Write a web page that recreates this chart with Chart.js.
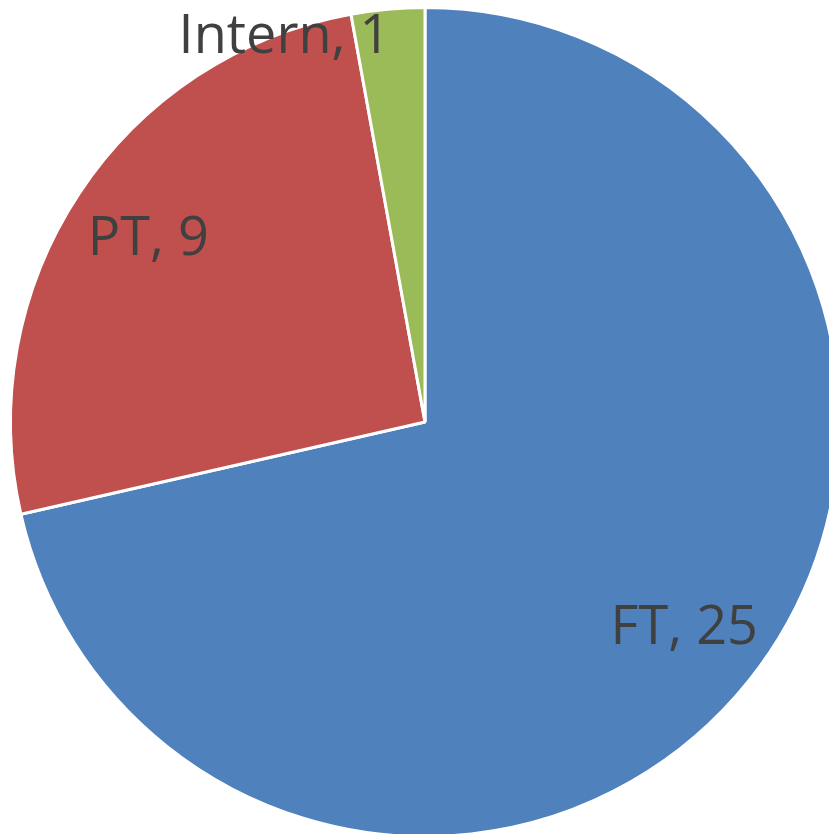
<!DOCTYPE html>
<html>
<head>
<meta charset="utf-8">
<script src="https://cdn.jsdelivr.net/npm/chart.js@4/dist/chart.umd.min.js"></script>
<style>
  html, body { margin: 0; padding: 0; overflow: hidden; background: #fff; }
  #wrap { width: 850px; height: 844px; }
</style>
</head>
<body>
<div id="wrap"><canvas id="pieChart" width="850" height="844"></canvas></div>
<script>
const labels = ['FT', 'PT', 'Intern'];
const counts = [25, 9, 1];
const colors = ['#4F81BD', '#C0504D', '#9BBB59'];

// draws "Name, value" inside each slice like the Excel data labels
const sliceLabels = {
    id: 'sliceLabels',
    afterDatasetsDraw(chart) {
        const ctx = chart.ctx;
        const meta = chart.getDatasetMeta(0);
        ctx.save();
        ctx.font = '54px "Open Sans", sans-serif';
        ctx.fillStyle = '#404040';
        ctx.textBaseline = 'middle';
        meta.data.forEach((arc, i) => {
            const { x, y, startAngle, endAngle, outerRadius } = arc.getProps(['x', 'y', 'startAngle', 'endAngle', 'outerRadius'], true);
            const mid = (startAngle + endAngle) / 2;
            const small = (endAngle - startAngle) < 0.3;
            const r = outerRadius * (small ? 0.93 : 0.8);
            ctx.textAlign = small ? 'right' : 'center';
            ctx.fillText(labels[i] + ', ' + counts[i], x + Math.cos(mid) * r, y + Math.sin(mid) * r);
        });
        ctx.restore();
    }
};

new Chart(document.getElementById('pieChart').getContext('2d'), {
    type: 'pie',
    data: {
        labels: labels,
        datasets: [{
            data: counts,
            backgroundColor: colors,
            borderColor: '#ffffff',
            borderWidth: 3
        }]
    },
    options: {
        responsive: false,
        animation: false,
        layout: { padding: { top: 6, bottom: 6, left: 9, right: 9 } },
        plugins: { legend: { display: false }, tooltip: { enabled: false } }
    },
    plugins: [sliceLabels]
});
</script>
</body>
</html>
